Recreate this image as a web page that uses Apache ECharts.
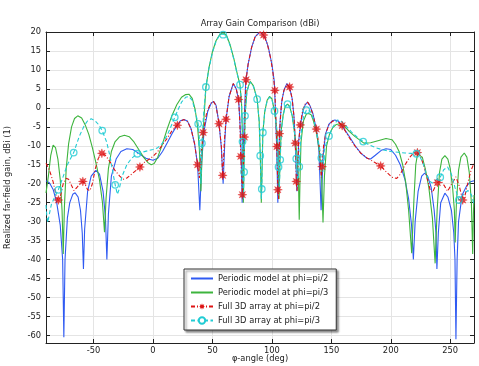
<!DOCTYPE html>
<html><head><meta charset="utf-8">
<script src="https://cdn.jsdelivr.net/npm/echarts@6/dist/echarts.min.js"></script>
<style>html,body{margin:0;padding:0;background:#fff}#c{width:479px;height:366px}</style>
</head><body><div id="c"></div>
<script>
const chartTitle = 'Array Gain Comparison (dBi)';
const xAxisName = 'φ-angle (deg)';
const yAxisName = 'Realized far-field gain, dBi (1)';
const seriesNames = ['Periodic model at phi=pi/2', 'Periodic model at phi=pi/3', 'Full 3D array at phi=pi/2', 'Full 3D array at phi=pi/3'];
const xRange = [-90, 270];
const yRange = [-62, 20];

const periodicPi2 = [[-90,-19.2],[-87,-19.8],[-84,-21.5],[-81,-25],[-78,-31],[-76,-40],[-75,-60.5],[-74,-40],[-72,-29],[-70,-25],[-67.5,-22.8],[-65.5,-22.4],[-63,-23.5],[-61,-27],[-59.5,-33],[-58.5,-42.5],[-57.5,-32],[-55,-22],[-52,-18],[-48,-16.5],[-45,-17.5],[-42,-22],[-40,-29],[-38.8,-40],[-37.5,-28],[-35,-18],[-31,-13.5],[-27,-11.5],[-22,-10.8],[-17,-11],[-12,-12],[-6,-13.3],[0,-13.8],[4,-13.3],[8,-11.5],[12,-9.2],[16,-6.8],[20,-4.7],[23,-3.4],[26,-3.1],[29,-3.5],[32,-5.5],[35,-9.5],[37.5,-15],[39.4,-27],[41,-14],[43,-6],[46,-1],[49,1.3],[51,1.7],[53,0.7],[55.5,-4],[57.5,-10.5],[59,-20],[60.5,-8],[61.5,-3],[64,3],[67.5,6.4],[70,5],[72,2.2],[73,-3],[74,-10],[75,-25],[76,-10],[77,-1],[78,7],[80,11.5],[83,16],[86,18.8],[90,20],[94,18.8],[97,16],[100,11.5],[102,7],[103,-1],[104,-10],[105,-25],[106,-10],[107,-3],[108.5,2.2],[110.5,5],[112.7,6.4],[115,5.2],[117,2.5],[118.5,-2],[119.7,-9],[121,-22],[122.5,-9],[124,-4.5],[126,-1],[128,0.8],[130,1.5],[132,0.6],[134.5,-1.5],[137.4,-5.6],[139.5,-11],[141.4,-27],[143,-13],[145,-7],[148,-4.3],[151,-3.4],[153,-3.2],[156,-3.5],[160,-5.2],[165,-7.5],[170,-10],[175,-12],[180,-13.3],[183,-13.5],[187,-12.5],[192,-11.2],[196,-10.8],[200,-11],[204,-12.5],[208,-15],[212,-19],[215,-24],[217.5,-31],[219,-40],[220.5,-30],[223,-22],[226,-18],[228.5,-17.2],[231,-18],[234,-21],[236.5,-27],[238,-33],[238.8,-42.5],[240,-33],[242,-25],[245.5,-22.5],[248,-23.5],[251,-27],[253,-33],[254,-40],[254.8,-61],[255.8,-40],[257,-30],[260,-23],[264,-20.5],[267,-19.5],[270,-19.2]];

const periodicPi3 = [[-90,-22.5],[-88,-18],[-86,-12.5],[-84,-9.8],[-82,-10.5],[-80,-13.5],[-78,-19],[-76.5,-27],[-75.5,-38.5],[-74.5,-26],[-73,-16],[-71,-9.5],[-68.5,-5],[-66,-2.8],[-63.3,-2.1],[-60,-2.7],[-57,-4.5],[-54,-7],[-51,-10.5],[-48,-14.5],[-45,-19],[-42.5,-25],[-40.8,-32.8],[-39.5,-24],[-37.5,-16],[-35,-11.5],[-32,-9],[-28,-7.6],[-24,-7.2],[-20,-7.6],[-16,-9],[-12,-11],[-8,-13],[-4,-14.5],[-1.5,-15],[1,-14.7],[4,-13],[8,-9.5],[12,-5.5],[16,-2],[20,0.8],[24,2.8],[27.5,3.5],[30.2,3.6],[33,2.5],[35.5,-0.5],[37.5,-5],[39,-11],[40.3,-22],[41.5,-10],[43,-2],[44.5,5.3],[47,10.5],[50,14.8],[53,17.7],[56,19.3],[59,19.8],[62,19],[65,16.5],[68,13],[70.5,9.5],[73.2,6],[74.5,1],[75.3,-8],[76,-25],[76.6,-15],[77.4,-2],[79,4.5],[81.7,7],[84.5,5.8],[87.6,2.3],[89.3,-3.5],[90.2,-12],[91.1,-25],[91.9,-14],[92.4,-6.5],[94,-1],[96,2],[98,3],[100,2.4],[102.2,-0.8],[104,-5.5],[105.2,-12],[106,-24],[107,-12],[108,-5.5],[109.5,-1.8],[111.2,0.4],[113.2,1],[115,0.3],[117,-2],[119,-6.5],[121,-12],[122.3,-18],[123,-29.5],[123.8,-17],[124.5,-9],[126.5,-3.5],[129,-1.6],[131,-1.5],[133,-1.8],[135,-3.5],[137.5,-6.5],[140,-11.5],[141.8,-18],[143,-30.2],[144.2,-18],[146,-10],[148.4,-7],[151,-5.3],[154,-4.4],[157.7,-4.2],[161,-4.8],[165,-6.2],[170,-7.6],[177.4,-9.3],[183,-9.2],[190,-8.6],[196,-8.1],[201,-8.4],[204,-9.6],[207,-11.5],[210,-15],[212.5,-19.5],[215,-27],[217.6,-38.3],[219.5,-24],[221,-15],[222.5,-12.2],[224,-11.8],[226.5,-13],[229,-16],[232,-21],[235,-29],[237.3,-41],[239,-27],[241,-17],[243,-13.5],[245.5,-12.6],[248,-13.5],[250,-16],[252,-21],[253.5,-27],[254.2,-35.5],[255.2,-25],[257,-16.5],[259,-13],[261.8,-11.9],[264,-13],[266,-17],[267.8,-25],[268.9,-38.5],[269.5,-28],[270,-23]];

const full3dPi2 = [[-90,-14.6],[-87,-16.5],[-84,-19.5],[-81.5,-23],[-79.6,-24.5],[-78,-23.5],[-75.5,-20],[-73,-18.6],[-71,-18.8],[-68.5,-20.5],[-66.5,-21.8],[-64,-21],[-61,-19.8],[-59,-19.4],[-57,-20.2],[-55,-21.6],[-53,-21.8],[-51,-20],[-48.5,-16],[-46,-13.3],[-43,-12],[-40,-12.5],[-36,-14.3],[-32,-16.5],[-28,-18],[-25,-18.8],[-22,-18.5],[-18,-17.5],[-14,-16.4],[-11,-15.6],[-7,-14.3],[-3,-13.5],[0,-12.8],[4,-11.5],[8,-9.7],[12,-8],[16,-6],[20.5,-4.6],[23,-3.5],[26,-3.1],[29,-3.6],[32,-5.5],[35,-9.5],[37.5,-15],[39,-18.5],[40.5,-12],[42.2,-6.5],[45,-1.5],[48,1],[50.7,1.7],[53,0.6],[55.5,-4.2],[57.5,-10],[58.6,-18.5],[60,-9],[61.4,-3],[64,3],[67.5,6.4],[70,5],[72,2.2],[73,-3.5],[73.8,-12.8],[75.2,-23],[76.9,-7.7],[77.6,1],[78.3,7.4],[80,11.5],[83,16],[86,18.8],[90,20],[93,19.2],[96,17],[99,13],[101,9],[102.5,4.6],[104.2,-10.2],[105,-21.6],[105.6,-24],[106.4,-6.8],[108,1],[110,4.5],[112.7,6.1],[114.9,5.5],[117,2.5],[118.5,-2],[119.7,-9.3],[120.5,-19.4],[121.2,-22],[122.5,-9],[123.9,-4.5],[126,-0.5],[128,1],[130,1.5],[132,0.6],[134.5,-1.8],[137.4,-5.6],[140,-10.5],[141.6,-18.5],[142.2,-15.5],[143.5,-10],[145.5,-6.5],[148,-4.5],[151,-3.5],[154,-3.4],[156,-3.8],[159.1,-4.7],[163,-6.8],[168,-9.3],[174.6,-11.9],[180,-13.2],[186,-14.3],[191.5,-15.3],[196,-16.8],[201,-18.3],[205,-18.6],[208,-17.5],[212,-15],[216,-13],[219,-12],[222.4,-11.8],[225,-12.8],[228,-15.5],[231,-19],[233,-21.5],[235,-22.3],[237,-21],[239.3,-19.7],[242,-19.2],[245,-20.5],[247.8,-22],[250.5,-20.5],[254.8,-18.2],[257.5,-20.5],[260.5,-24.3],[262.5,-23],[265,-19.5],[267.5,-16.5],[270,-14.6]];

const full3dPi3 = [[-90,-25.6],[-89.3,-28.5],[-88.5,-30.2],[-87.5,-28.5],[-85.5,-25.5],[-82,-23],[-79.6,-21.6],[-76,-18.5],[-72,-15],[-66.7,-11.8],[-62,-7.5],[-58,-4.8],[-55,-3.4],[-52,-2.9],[-49,-3.3],[-45.5,-4.5],[-42.7,-6],[-39,-9],[-36,-13],[-33.5,-17.5],[-31.8,-20.3],[-30,-22.8],[-28.5,-21.5],[-26,-18],[-22,-15],[-18,-13.3],[-13.2,-12.1],[-8,-11.6],[-3,-11.2],[0,-11],[4,-10.5],[8,-9.3],[12,-7.2],[15,-5],[18.3,-2.5],[21,-0.5],[24,1.5],[27.5,2.8],[30.2,3],[33,2],[35.5,-1],[38,-4.2],[39.5,-10],[40.3,-20],[41.1,-9.3],[42.5,-2],[44.5,5.5],[47,10.3],[50,14.6],[53,17.5],[56,19.2],[59,19.5],[62,18.8],[65,16.3],[68,12.8],[70.5,9.3],[73.2,6.1],[74.5,1],[75.3,-8.9],[76,-24],[76.6,-16.9],[77.4,-2.1],[79,4.3],[81.7,6.8],[84.5,5.6],[87.6,2.3],[89.3,-3.5],[90.2,-12.6],[91.1,-24],[91.5,-21.4],[91.9,-14],[92.4,-6.5],[94,-1],[96,1.8],[98,2.8],[100,2.2],[102.2,-0.8],[104,-5.5],[105.6,-15.6],[106.2,-22],[107,-13.7],[108,-6],[109.5,-2],[111.2,0.3],[113.2,1],[115,0.3],[117,-2],[119,-6.5],[120.5,-13.4],[121.7,-20],[123,-15.5],[124.5,-7],[126.5,-2.5],[129,-0.6],[131,-0.5],[133,-1.3],[135,-3],[137.5,-6.3],[140,-10.5],[141.6,-13.2],[142.8,-17],[144,-11.5],[146,-9],[148,-7.4],[151,-5.2],[155,-3.2],[158,-3.4],[162,-4.6],[167,-6.4],[172,-7.8],[176.8,-8.9],[182,-9.8],[188,-10.6],[194,-11.1],[200,-11.5],[206,-11.7],[212,-11.9],[217,-12],[221.6,-12.1],[224,-12.5],[227,-14.5],[230,-17.5],[232.5,-19.3],[235,-19.8],[238,-19],[241.6,-18.3],[244.5,-16.3],[247.8,-15.6],[251,-17.5],[254,-21],[257.3,-24.3],[259.5,-23.5],[262,-22.5],[265,-21.8],[268,-23],[270,-25.6]];

const full3dPi2Markers = [[-79.6,-24.3],[-59,-19.4],[-43,-12],[-11,-15.6],[20.5,-4.6],[37.5,-15],[42.2,-6.5],[55.5,-4.2],[58.6,-17.8],[61.4,-3],[72,2.2],[73.8,-12.8],[75.2,-22.9],[76.9,-7.7],[78.3,7.4],[93,19.2],[102.5,4.6],[104.2,-10.2],[105,-21.6],[106.4,-6.8],[114.9,5.5],[119.7,-9.3],[120.5,-19.4],[123.9,-4.5],[137.4,-5.6],[142.2,-15.5],[159.1,-4.7],[191.5,-15.3],[222.4,-11.8],[239.3,-19.7],[260.5,-24.3]];

const full3dPi3Markers = [[-79.6,-21.6],[-66.7,-11.8],[-42.7,-6],[-31.8,-20.3],[-13.2,-12.1],[18.3,-2.5],[38,-4.2],[41.1,-9.3],[44.5,5.5],[59,19.3],[73.2,6.1],[75.3,-8.9],[76.6,-16.9],[77.4,-2.1],[87.6,2.3],[90.2,-12.6],[91.5,-21.4],[92.4,-6.5],[102.2,-0.8],[105.6,-15.6],[107,-13.7],[113.2,1],[120.5,-13.4],[123,-15.5],[129,-0.6],[141.6,-13.2],[148,-7.4],[176.8,-8.9],[221.6,-12.1],[241.6,-18.3],[257.3,-24.3]];

const FONT = 'DejaVu Sans';
const FS = 8.3;
const C_BLUE = '#2f5af2', C_GREEN = '#3db43d', C_RED = '#dd1414', C_CYAN = '#22ccd4';
const STAR = 'path://M10 0 L11.8 5.7 L17.07 2.93 L14.3 8.2 L20 10 L14.3 11.8 L17.07 17.07 L11.8 14.3 L10 20 L8.2 14.3 L2.93 17.07 L5.7 11.8 L0 10 L5.7 8.2 L2.93 2.93 L8.2 5.7 Z';

const chart = echarts.init(document.getElementById('c'));
const gridCol = '#e4e4e4', axisCol = '#222';
function xAx(pos, showLabel) {
  return {
    type: 'value', position: pos, min: xRange[0], max: xRange[1], splitNumber: 7, minInterval: 50, maxInterval: 50,
    axisLine: { show: true, onZero: false, lineStyle: { color: axisCol, width: 1 } },
    axisTick: { show: true, inside: true, length: 4, lineStyle: { color: axisCol } },
    axisLabel: { show: showLabel, fontFamily: FONT, fontSize: FS, color: '#222', margin: 4,
      formatter: v => (v % 50 === 0 ? String(v) : '') },
    splitLine: { show: showLabel, lineStyle: { color: gridCol, width: 1 } },
    name: showLabel ? xAxisName : '', nameLocation: 'middle', nameGap: 12, nameMoveOverlap: false,
    nameTextStyle: { fontFamily: FONT, fontSize: FS, color: '#222' }
  };
}
function yAx(pos, showLabel) {
  return {
    type: 'value', position: pos, min: yRange[0], max: yRange[1], splitNumber: 16, minInterval: 5, maxInterval: 5,
    axisLine: { show: true, onZero: false, lineStyle: { color: axisCol, width: 1 } },
    axisTick: { show: true, inside: true, length: 4, lineStyle: { color: axisCol } },
    axisLabel: { show: showLabel, fontFamily: FONT, fontSize: FS, color: '#222', margin: 5,
      formatter: v => (v % 5 === 0 ? String(v) : '') },
    splitLine: { show: showLabel, lineStyle: { color: gridCol, width: 1 } },
    name: showLabel ? yAxisName : '', nameLocation: 'middle', nameGap: 34, nameRotate: 90, nameMoveOverlap: false,
    nameTextStyle: { fontFamily: FONT, fontSize: FS, color: '#222' }
  };
}

chart.setOption({
  animation: false,
  backgroundColor: '#fff',
  title: { text: chartTitle, left: 260, top: 20, textAlign: 'center', padding: 0,
    textStyle: { fontFamily: FONT, fontSize: FS, fontWeight: 'normal', color: '#222' } },
  grid: { left: 46, right: 5, top: 32, bottom: 23, containLabel: false, outerBoundsMode: 'none' },
  xAxis: [xAx('bottom', true), xAx('top', false)],
  yAxis: [yAx('left', true), yAx('right', false)],
  legend: {
    orient: 'vertical', left: 184, top: 269,
    padding: [5, 8, 5, 6], itemGap: 5, itemWidth: 22, itemHeight: 8,
    backgroundColor: '#fff', borderColor: '#333', borderWidth: 1,
    shadowColor: 'rgba(0,0,0,0.45)', shadowBlur: 2, shadowOffsetX: 2, shadowOffsetY: 2,
    textStyle: { fontFamily: FONT, fontSize: FS, color: '#222', lineHeight: 9 },
    data: [
      { name: seriesNames[0], itemStyle: { opacity: 0 } },
      { name: seriesNames[1], itemStyle: { opacity: 0 } },
      { name: seriesNames[2] },
      { name: seriesNames[3] }
    ]
  },
  series: [
    { name: seriesNames[0], type: 'line', data: periodicPi2, symbol: 'none', showSymbol: false,
      itemStyle: { color: C_BLUE }, lineStyle: { color: C_BLUE, width: 1.1 }, z: 2 },
    { name: seriesNames[1], type: 'line', data: periodicPi3, symbol: 'none', showSymbol: false,
      itemStyle: { color: C_GREEN }, lineStyle: { color: C_GREEN, width: 1.1 }, z: 2 },
    { name: seriesNames[2], type: 'line', data: full3dPi2, symbol: STAR, showSymbol: false,
      itemStyle: { color: C_RED }, lineStyle: { color: C_RED, width: 1.1, type: [4, 2, 1, 2] }, z: 3 },
    { name: seriesNames[3], type: 'line', data: full3dPi3, symbol: 'emptyCircle', showSymbol: false,
      itemStyle: { color: C_CYAN }, lineStyle: { color: C_CYAN, width: 1.1, type: [4, 2.5] }, z: 3 },
    { name: 'markers-pi2', type: 'scatter', data: full3dPi2Markers, symbol: STAR, symbolSize: 9,
      itemStyle: { color: C_RED, borderColor: C_RED, borderWidth: 0.4 }, z: 5, silent: true },
    { name: 'markers-pi3', type: 'scatter', data: full3dPi3Markers, symbol: 'circle', symbolSize: 6.5,
      itemStyle: { color: 'rgba(255,255,255,0)', borderColor: C_CYAN, borderWidth: 1.3 }, z: 5, silent: true }
  ]
});
</script>
</body></html>
